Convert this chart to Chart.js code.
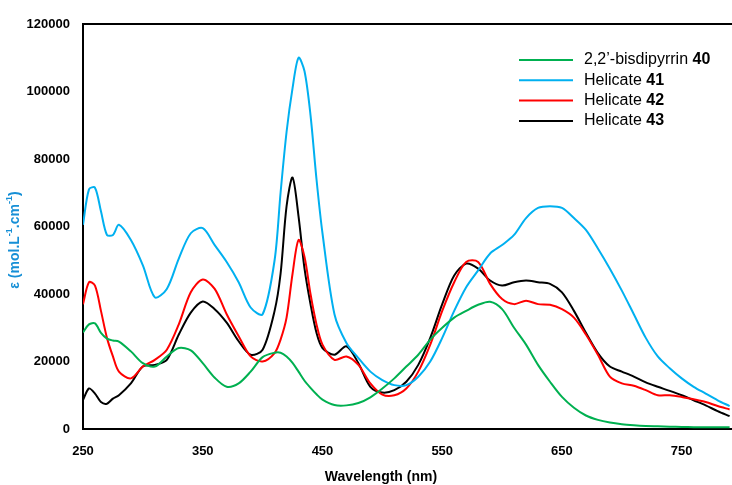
<!DOCTYPE html>
<html>
<head>
<meta charset="utf-8">
<script src="https://cdn.jsdelivr.net/npm/chart.js@4.4.0/dist/chart.umd.min.js"></script>
<style>
  body { margin: 0; background: #fff; }
</style>
</head>
<body>
<canvas id="chart" width="732" height="485"></canvas>
<script>
// wavelengths (nm), shared by all series
const wavelength = [250,255,260,265,270,275,280,290,300,310,320,330,340,350,360,370,380,390,400,410,
  415,420,425,430,435,440,445,450,460,470,480,490,500,510,520,530,540,550,560,570,580,590,600,610,
  620,630,640,650,660,670,680,690,700,710,720,730,740,750,760,770,780,790]

const bisdipyrrin40 = [28600,31000,31300,28500,26800,26200,25900,23000,19500,18500,21500,24000,23300,19500,15200,12500,13500,17000,21300,22600,
  22600,21500,19600,17000,14300,12200,10300,8700,7100,7000,7700,9400,12000,15000,18500,22000,26500,30000,33000,35000,36800,37700,35500,30000,
  25000,19000,14000,9500,6300,4000,2700,1900,1400,1100,900,800,700,600,550,500,500,500]

const helicate41 = [60500,71000,71500,64500,57500,57500,60500,56000,48500,39000,41500,50500,58000,59500,54500,49500,43500,36000,34000,50000,
  70000,88000,101000,110000,106000,93000,74000,58000,34000,25500,21000,17000,14500,13000,13000,15500,20000,27000,35000,42000,47000,52000,54500,57500,
  62500,65500,66000,65500,62500,59000,53500,47500,41000,34000,27000,21500,18000,15000,12500,10500,8500,6800]

const helicate42 = [37000,43500,42500,35000,27000,21500,17000,15000,18500,20500,23500,31000,40500,44300,41500,34000,27500,21500,20000,22500,
  26500,33000,46000,56000,51000,40000,31000,25000,20500,21500,19000,13500,10200,10000,12000,17000,25000,35000,43500,49500,49500,43000,38500,37000,
  38000,37000,36800,35500,33000,28000,22000,15500,13500,12800,11500,10000,10000,9500,8800,8000,6800,5800]

const helicate43 = [8600,12000,10500,8000,7500,9000,10000,13500,18500,19000,20500,28000,34500,37800,35500,31500,26000,22000,23500,35000,
  46000,66000,74500,63000,47500,37000,28500,24000,22000,24500,19500,12500,10800,11500,14000,19000,27000,37000,45500,49000,47500,44000,42500,43500,
  44000,43500,43000,40500,35000,28500,22500,18500,17000,15500,13800,12500,11300,10000,8500,7000,5300,3800]

const seriesNames = ['2,2\u2019-bisdipyrrin ', 'Helicate ', 'Helicate ', 'Helicate ']
const seriesNumbers = ['40', '41', '42', '43']
const seriesColors = ['#00B050', '#00B0F0', '#FF0000', '#000000']
const xTicks = [250, 350, 450, 550, 650, 750]

function points(values){
    return values.map((v, i) => ({x: wavelength[i], y: v}))
}

const allSeries = [bisdipyrrin40, helicate41, helicate42, helicate43]
const datasets = allSeries.map((s, i) => ({
    label: seriesNames[i] + seriesNumbers[i],
    data: points(s),
    borderColor: seriesColors[i],
    borderWidth: 2,
    pointRadius: 0,
    fill: false,
    tension: 0.3
}))

// legend, axis titles and top frame line drawn by hand
const decor = {
    id: 'decor',
    afterDraw(chart){
        const ctx = chart.ctx
        const a = chart.chartArea
        ctx.save()
        ctx.strokeStyle = '#000'
        ctx.lineWidth = 2
        ctx.beginPath()
        ctx.moveTo(a.left, a.top)
        ctx.lineTo(a.right, a.top)
        ctx.stroke()

        // legend
        ctx.textBaseline = 'middle'
        for (let i = 0; i < seriesNames.length; i++){
            const y = 60 + i * 20.3
            ctx.strokeStyle = seriesColors[i]
            ctx.lineWidth = 2
            ctx.beginPath()
            ctx.moveTo(519, y)
            ctx.lineTo(573, y)
            ctx.stroke()
            ctx.fillStyle = '#000'
            ctx.font = '16px "Liberation Sans", Arial, sans-serif'
            ctx.fillText(seriesNames[i], 584, y)
            const w = ctx.measureText(seriesNames[i]).width
            ctx.font = 'bold 16px "Liberation Sans", Arial, sans-serif'
            ctx.fillText(seriesNumbers[i], 584 + w, y)
        }

        // x title
        ctx.fillStyle = '#000'
        ctx.textAlign = 'center'
        ctx.font = 'bold 14px "Liberation Sans", Arial, sans-serif'
        ctx.fillText('Wavelength (nm)', 381, 477)

        // y title with superscripts
        const parts = [['\u03b5 (mol.L', false], ['-1', true], ['.cm', false], ['-1', true], [')', false]]
        const big = 'bold 14px "Liberation Sans", Arial, sans-serif'
        const small = 'bold 9px "Liberation Sans", Arial, sans-serif'
        let total = 0
        for (const p of parts){
            ctx.font = p[1] ? small : big
            total += ctx.measureText(p[0]).width
        }
        ctx.translate(15, 240)
        ctx.rotate(-Math.PI / 2)
        ctx.textAlign = 'left'
        ctx.fillStyle = '#168FD6'
        let x = -total / 2
        for (const p of parts){
            ctx.font = p[1] ? small : big
            ctx.fillText(p[0], x, p[1] ? -5 : 0)
            x += ctx.measureText(p[0]).width
        }
        ctx.restore()
    }
}

const tickFont = {family: '"Liberation Sans", Arial, sans-serif', size: 13, weight: 'bold'}

new Chart(document.getElementById('chart').getContext('2d'), {
    type: 'line',
    data: {datasets: datasets},
    options: {
        responsive: false,
        animation: false,
        layout: {padding: {top: 24, right: 0, left: 0, bottom: 0}},
        plugins: {legend: {display: false}, tooltip: {enabled: false}},
        scales: {
            x: {
                type: 'linear',
                min: 250,
                max: 792,
                afterBuildTicks: (scale) => { scale.ticks = xTicks.map(v => ({value: v})) },
                afterFit: (scale) => { scale.height = 56 },
                grid: {display: false, drawTicks: false},
                border: {display: true, color: '#000', width: 2},
                ticks: {color: '#000', font: tickFont, padding: 15, maxRotation: 0, autoSkip: false,
                    callback: (v) => String(v)}
            },
            y: {
                min: 0,
                max: 120000,
                afterFit: (scale) => { scale.width = 83 },
                grid: {display: false, drawTicks: false},
                border: {display: true, color: '#000', width: 2},
                ticks: {color: '#000', font: tickFont, padding: 13, stepSize: 20000,
                    callback: (v) => String(v)}
            }
        }
    },
    plugins: [decor]
})
</script>
</body>
</html>
